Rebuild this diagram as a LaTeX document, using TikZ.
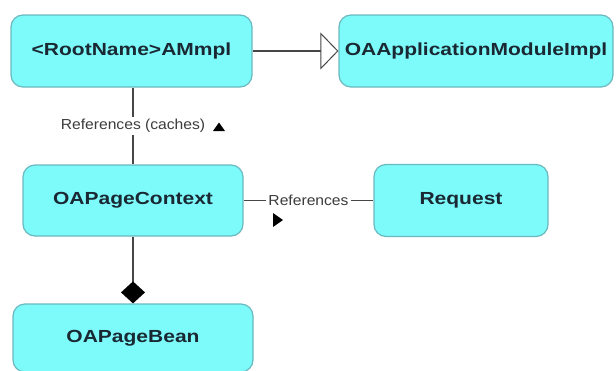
\documentclass[tikz,border=0pt]{standalone}
\usepackage{fontspec}
\newfontfamily\boxfont{Liberation Sans}[FakeStretch=1.2]
\newfontfamily\lblfont{Liberation Sans}[FakeStretch=1.08]
\usetikzlibrary{arrows.meta}
\definecolor{boxfill}{RGB}{125,250,250}
\definecolor{boxline}{RGB}{105,185,190}
\definecolor{boxtext}{RGB}{25,40,50}
\definecolor{connc}{RGB}{70,70,70}
\definecolor{lblc}{RGB}{60,60,60}
\begin{document}
\begin{tikzpicture}[x=1pt,y=-1pt,
  cls/.style={draw=boxline, line width=1.2pt, fill=boxfill, rounded corners=12pt,
    inner sep=0pt, text=boxtext, font=\boxfont\bfseries\fontsize{17.5}{20}\selectfont},
  lbl/.style={fill=white, inner sep=2pt, text=lblc,
    font=\lblfont\fontsize{14.5}{17}\selectfont},
  conn/.style={draw=connc, line width=1.3pt}]
\path[fill=white] (0,0) rectangle (616,370);
\useasboundingbox (0,0) rectangle (616,370);
% classes
\node[cls, minimum width=241pt, minimum height=72pt] (root) at (131.5,51) {<RootName>AMmpl};
\node[cls, minimum width=274pt, minimum height=72pt] (oaam) at (476,51) {OAApplicationModuleImpl};
\node[cls, minimum width=220pt, minimum height=71pt] (ctx) at (133,200.5) {OAPageContext};
\node[cls, minimum width=174pt, minimum height=72pt] (req) at (461,200.5) {Request};
\node[cls, minimum width=240pt, minimum height=68pt] (bean) at (133,338) {OAPageBean};
% generalization
\draw[conn, -{Triangle[open, length=18pt, width=37pt, line width=1pt]}] (root.east) -- (oaam.west);
% references (caches)
\draw[conn] (root.south -| ctx.north) -- node[lbl] (l1) {References (caches)} (ctx.north);
\coordinate (upmark) at (219,127);
\fill[black] ([shift={(-6,4)}]upmark) -- ([shift={(6,4)}]upmark) -- ([shift={(0,-4.5)}]upmark) -- cycle;
% references
\draw[conn] (ctx.east) -- node[lbl] (l2) {References} (req.west);
\coordinate (rmark) at (278,220);
\fill[black] ([shift={(-5,-7)}]rmark) -- ([shift={(5,0)}]rmark) -- ([shift={(-5,7)}]rmark) -- cycle;
% composition
\draw[conn, -{Diamond[length=22pt, width=24pt, fill=black, color=black]}] (ctx.south) -- (ctx.south |- bean.north);
\end{tikzpicture}
\end{document}
